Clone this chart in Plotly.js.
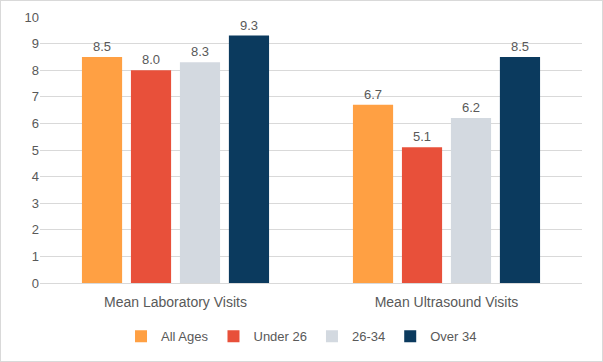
<!DOCTYPE html>
<html><head><meta charset="utf-8">
<script src="https://cdn.plot.ly/plotly-3.0.1.min.js"></script>
<style>html,body{margin:0;padding:0;background:#fff}#c{width:601px;height:360px;border:1px solid #d9d9d9}</style>
</head><body><div id="c"></div>
<script>
const categories = ["Mean Laboratory Visits", "Mean Ultrasound Visits"];
const seriesNames = ["All Ages", "Under 26", "26-34", "Over 34"];
const allAges = [8.5, 6.7];
const under26 = [8.0, 5.1];
const age2634 = [8.3, 6.2];
const over34 = [9.3, 8.5];
const colors = ["#FFA043", "#E8503A", "#D3D9E0", "#0B3A5E"];
const values = [allAges, under26, age2634, over34];
const traces = values.map((v, i) => ({
  type: 'bar', x: categories, y: v, name: seriesNames[i],
  marker: {color: colors[i]},
  text: v.map(d => d.toFixed(1)), textposition: 'outside', cliponaxis: false, constraintext: 'none',
  textfont: {color: '#595959', size: 13, family: 'Liberation Sans, Arial, sans-serif'},
  hoverinfo: 'none'
}));
const layout = {
  width: 601, height: 360,
  margin: {l: 39, r: 20, t: 16, b: 78, autoexpand: false},
  barmode: 'group', bargap: 0.277, bargroupgap: 0.18,
  font: {family: 'Liberation Sans, Arial, sans-serif', color: '#595959', size: 13},
  paper_bgcolor: '#fff', plot_bgcolor: '#fff',
  xaxis: {showgrid: false, showline: true, linecolor: '#d9d9d9', ticks: '', tickangle: 0, tickfont: {size: 14}, ticklabelstandoff: 6, automargin: false},
  yaxis: {range: [0, 10], dtick: 1, showgrid: true, gridcolor: '#d9d9d9', zeroline: false, ticks: '', tickfont: {size: 13}, automargin: false},
  showlegend: true,
  legend: {orientation: 'h', x: 0.4825, xanchor: 'center', y: -0.2, yanchor: 'middle', font: {size: 13}, traceorder: 'normal', itemwidth: 30}
};
Plotly.newPlot('c', traces, layout, {staticPlot: true});
</script></body></html>
